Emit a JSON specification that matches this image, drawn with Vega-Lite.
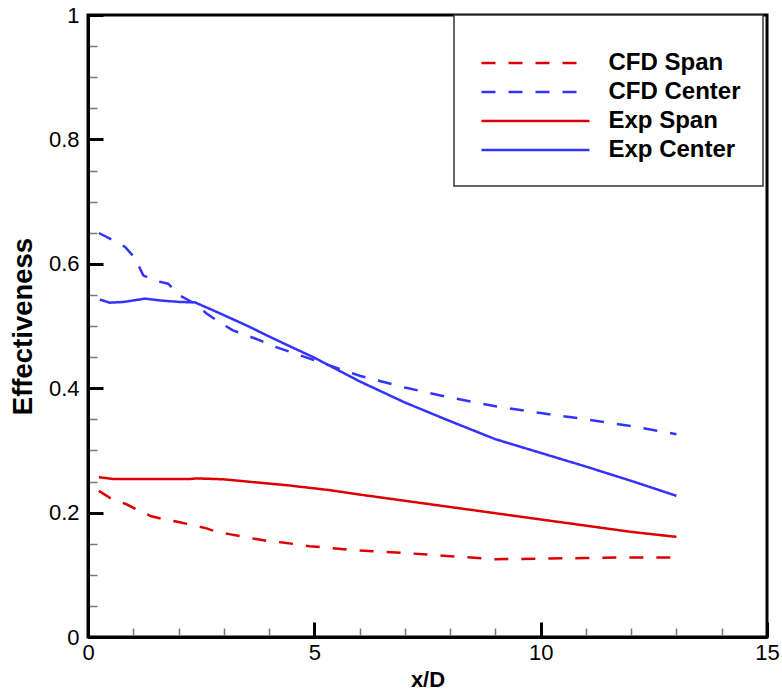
{
  "$schema": "https://vega.github.io/schema/vega-lite/v6.json",
  "width": 679,
  "height": 622,
  "autosize": {"type": "none"},
  "padding": {"left": 88, "top": 15, "right": 15, "bottom": 57},
  "config": {
    "font": "Liberation Sans",
    "view": {"stroke": "#000", "strokeWidth": 3},
    "legend": {
      "orient": "none",
      "legendX": 366,
      "legendY": 0,
      "strokeColor": "#333",
      "strokeWidth": 1.5,
      "fillColor": "#fff",
      "padding": 21.5,
      "titleFontSize": 8,
      "titlePadding": 4,
      "symbolType": "stroke",
      "symbolSize": 11664,
      "symbolOffset": 4.5,
      "symbolStrokeWidth": 2.5,
      "labelFontSize": 24,
      "labelFontWeight": "bold",
      "labelFont": "Liberation Sans",
      "labelColor": "#000",
      "labelOffset": 17.5,
      "clipHeight": 29,
      "rowPadding": 0
    }
  },
  "data": {
    "values": [
      {"x": 0.24, "y": 0.235, "series": "CFD Span"},
      {"x": 0.5, "y": 0.223, "series": "CFD Span"},
      {"x": 0.86, "y": 0.213, "series": "CFD Span"},
      {"x": 1.1, "y": 0.204, "series": "CFD Span"},
      {"x": 1.4, "y": 0.194, "series": "CFD Span"},
      {"x": 1.7, "y": 0.189, "series": "CFD Span"},
      {"x": 2.0, "y": 0.185, "series": "CFD Span"},
      {"x": 2.3, "y": 0.18, "series": "CFD Span"},
      {"x": 2.6, "y": 0.175, "series": "CFD Span"},
      {"x": 2.85, "y": 0.169, "series": "CFD Span"},
      {"x": 3.15, "y": 0.165, "series": "CFD Span"},
      {"x": 3.45, "y": 0.161, "series": "CFD Span"},
      {"x": 3.75, "y": 0.157, "series": "CFD Span"},
      {"x": 4.0, "y": 0.154, "series": "CFD Span"},
      {"x": 4.3, "y": 0.152, "series": "CFD Span"},
      {"x": 4.6, "y": 0.149, "series": "CFD Span"},
      {"x": 4.9, "y": 0.146, "series": "CFD Span"},
      {"x": 5.2, "y": 0.144, "series": "CFD Span"},
      {"x": 6, "y": 0.139, "series": "CFD Span"},
      {"x": 7, "y": 0.135, "series": "CFD Span"},
      {"x": 8, "y": 0.13, "series": "CFD Span"},
      {"x": 9, "y": 0.125, "series": "CFD Span"},
      {"x": 10, "y": 0.126, "series": "CFD Span"},
      {"x": 11, "y": 0.127, "series": "CFD Span"},
      {"x": 12, "y": 0.128, "series": "CFD Span"},
      {"x": 13, "y": 0.128, "series": "CFD Span"},

      {"x": 0.24, "y": 0.6495, "series": "CFD Center"},
      {"x": 0.52, "y": 0.639, "series": "CFD Center"},
      {"x": 0.82, "y": 0.627, "series": "CFD Center"},
      {"x": 1.04, "y": 0.609, "series": "CFD Center"},
      {"x": 1.22, "y": 0.5815, "series": "CFD Center"},
      {"x": 1.45, "y": 0.5735, "series": "CFD Center"},
      {"x": 1.77, "y": 0.568, "series": "CFD Center"},
      {"x": 2.03, "y": 0.549, "series": "CFD Center"},
      {"x": 2.36, "y": 0.536, "series": "CFD Center"},
      {"x": 2.62, "y": 0.52, "series": "CFD Center"},
      {"x": 2.95, "y": 0.504, "series": "CFD Center"},
      {"x": 3.2, "y": 0.493, "series": "CFD Center"},
      {"x": 3.5, "y": 0.485, "series": "CFD Center"},
      {"x": 3.8, "y": 0.477, "series": "CFD Center"},
      {"x": 4, "y": 0.47, "series": "CFD Center"},
      {"x": 5, "y": 0.445, "series": "CFD Center"},
      {"x": 6, "y": 0.42, "series": "CFD Center"},
      {"x": 7, "y": 0.401, "series": "CFD Center"},
      {"x": 8, "y": 0.385, "series": "CFD Center"},
      {"x": 9, "y": 0.371, "series": "CFD Center"},
      {"x": 10, "y": 0.36, "series": "CFD Center"},
      {"x": 11, "y": 0.35, "series": "CFD Center"},
      {"x": 12, "y": 0.339, "series": "CFD Center"},
      {"x": 13, "y": 0.326, "series": "CFD Center"},

      {"x": 0.24, "y": 0.257, "series": "Exp Span"},
      {"x": 0.55, "y": 0.254, "series": "Exp Span"},
      {"x": 1, "y": 0.254, "series": "Exp Span"},
      {"x": 2.25, "y": 0.254, "series": "Exp Span"},
      {"x": 2.4, "y": 0.255, "series": "Exp Span"},
      {"x": 3, "y": 0.2535, "series": "Exp Span"},
      {"x": 3.65, "y": 0.249, "series": "Exp Span"},
      {"x": 4.4, "y": 0.244, "series": "Exp Span"},
      {"x": 5.35, "y": 0.236, "series": "Exp Span"},
      {"x": 6, "y": 0.229, "series": "Exp Span"},
      {"x": 7, "y": 0.219, "series": "Exp Span"},
      {"x": 8, "y": 0.209, "series": "Exp Span"},
      {"x": 9, "y": 0.199, "series": "Exp Span"},
      {"x": 10, "y": 0.189, "series": "Exp Span"},
      {"x": 11, "y": 0.179, "series": "Exp Span"},
      {"x": 12, "y": 0.169, "series": "Exp Span"},
      {"x": 13, "y": 0.161, "series": "Exp Span"},

      {"x": 0.26, "y": 0.5425, "series": "Exp Center"},
      {"x": 0.48, "y": 0.5375, "series": "Exp Center"},
      {"x": 0.78, "y": 0.5386, "series": "Exp Center"},
      {"x": 1.26, "y": 0.544, "series": "Exp Center"},
      {"x": 1.6, "y": 0.541, "series": "Exp Center"},
      {"x": 2.03, "y": 0.5386, "series": "Exp Center"},
      {"x": 2.36, "y": 0.538, "series": "Exp Center"},
      {"x": 2.77, "y": 0.525, "series": "Exp Center"},
      {"x": 3.5, "y": 0.501, "series": "Exp Center"},
      {"x": 4.09, "y": 0.48, "series": "Exp Center"},
      {"x": 5, "y": 0.449, "series": "Exp Center"},
      {"x": 6, "y": 0.411, "series": "Exp Center"},
      {"x": 7, "y": 0.377, "series": "Exp Center"},
      {"x": 8, "y": 0.347, "series": "Exp Center"},
      {"x": 9, "y": 0.318, "series": "Exp Center"},
      {"x": 10, "y": 0.296, "series": "Exp Center"},
      {"x": 11, "y": 0.274, "series": "Exp Center"},
      {"x": 12, "y": 0.251, "series": "Exp Center"},
      {"x": 13, "y": 0.227, "series": "Exp Center"}
    ]
  },
  "mark": {"type": "line", "strokeWidth": 2.5, "clip": true},
  "encoding": {
    "x": {
      "field": "x",
      "type": "quantitative",
      "scale": {"domain": [0, 15], "nice": false},
      "axis": {
        "title": "x/D",
        "titleFontSize": 22,
        "titleFontWeight": "bold",
        "titleColor": "#000",
        "titlePadding": 0,
        "values": [0, 1, 2, 3, 4, 5, 6, 7, 8, 9, 10, 11, 12, 13, 14, 15],
        "labelExpr": "datum.value % 5 === 0 ? '' + datum.value : ''",
        "labelFontSize": 22,
        "labelColor": "#000",
        "labelFlush": false,
        "labelOverlap": false,
        "labelPadding": 20,
        "grid": false,
        "domainColor": "#000",
        "domainWidth": 3,
        "tickColor": {"condition": {"test": "datum.value % 5 === 0", "value": "#000"}, "value": "#777"},
        "tickWidth": {"condition": {"test": "datum.value % 5 === 0", "value": 3}, "value": 1.5},
        "tickSize": {"condition": {"test": "datum.value % 5 === 0", "value": -15}, "value": -9}
      }
    },
    "y": {
      "field": "y",
      "type": "quantitative",
      "scale": {"domain": [0, 1], "nice": false},
      "axis": {
        "title": "Effectiveness",
        "titleFontSize": 27.5,
        "titleFontWeight": "bold",
        "titleColor": "#000",
        "titlePadding": 10.5,
        "values": [0, 0.05, 0.1, 0.15, 0.2, 0.25, 0.3, 0.35, 0.4, 0.45, 0.5, 0.55, 0.6, 0.65, 0.7, 0.75, 0.8, 0.85, 0.9, 0.95, 1],
        "labelExpr": "abs(datum.value * 5 - round(datum.value * 5)) < 0.001 ? '' + datum.value : ''",
        "labelFontSize": 22,
        "labelColor": "#000",
        "labelFlush": false,
        "labelOverlap": false,
        "labelPadding": 24,
        "grid": false,
        "domainColor": "#000",
        "domainWidth": 3,
        "tickColor": {"condition": {"test": "abs(datum.value * 5 - round(datum.value * 5)) < 0.001", "value": "#000"}, "value": "#777"},
        "tickWidth": {"condition": {"test": "abs(datum.value * 5 - round(datum.value * 5)) < 0.001", "value": 3}, "value": 1.5},
        "tickSize": {"condition": {"test": "abs(datum.value * 5 - round(datum.value * 5)) < 0.001", "value": -15}, "value": -9}
      }
    },
    "color": {
      "field": "series",
      "type": "nominal",
      "title": " ",
      "scale": {
        "domain": ["CFD Span", "CFD Center", "Exp Span", "Exp Center"],
        "range": ["#dd0000", "#3333ff", "#dd0000", "#3333ff"]
      }
    },
    "strokeDash": {
      "field": "series",
      "type": "nominal",
      "title": " ",
      "scale": {
        "domain": ["CFD Span", "CFD Center", "Exp Span", "Exp Center"],
        "range": [[14, 13], [14, 13], [1, 0], [1, 0]]
      }
    }
  }
}
